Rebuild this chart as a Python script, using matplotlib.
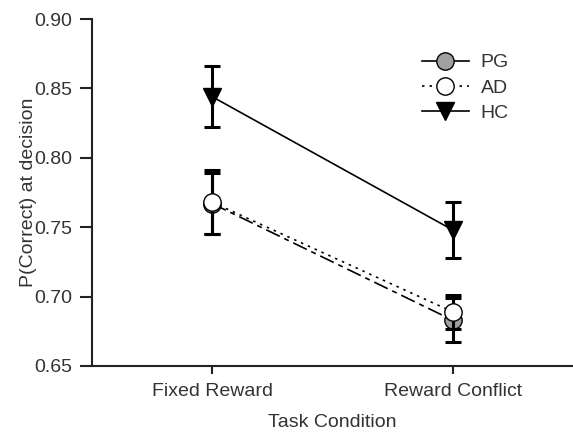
import matplotlib.pyplot as plt
from matplotlib.lines import Line2D

plt.rcParams["font.family"] = ["Liberation Sans", "DejaVu Sans"]

conditions = ["Fixed Reward", "Reward Conflict"]
pg_mean = [0.767, 0.683]
pg_err = [0.022, 0.016]
ad_mean = [0.768, 0.689]
ad_err = [0.023, 0.012]
hc_mean = [0.844, 0.748]
hc_err = [0.022, 0.020]

x = list(range(len(conditions)))

fig = plt.figure(figsize=(5.73, 4.32), dpi=100)
ax = fig.add_axes([92 / 573, 1 - 366 / 432, (573 - 92) / 573, (366 - 19) / 432])

eb = dict(color="black", capsize=6, elinewidth=2.2, capthick=2.2)

# PG
ax.errorbar(x, pg_mean, yerr=pg_err, fmt="none", zorder=2, **eb)
ax.plot(x, pg_mean, color="black", linestyle=(0, (9, 3, 3, 3)), lw=1.2,
        marker="o", ms=12.5, mfc="#a0a0a0", mec="black", mew=1.0, zorder=2)
# AD
ax.errorbar(x, ad_mean, yerr=ad_err, fmt="none", zorder=3, **eb)
ax.plot(x, ad_mean, color="black", linestyle=(0, (1.5, 3)), lw=1.2,
        marker="o", ms=12.5, mfc="white", mec="black", mew=1.0, zorder=3)
# HC
ax.errorbar(x, hc_mean, yerr=hc_err, fmt="none", zorder=4, **eb)
ax.plot(x, hc_mean, color="black", linestyle="-", lw=1.2,
        marker="v", ms=13, mfc="black", mec="black", zorder=4)

ax.set_xlim(-0.5, 1.5)
ax.set_ylim(0.65, 0.90)
ax.set_xticks(x)
ax.set_xticklabels(conditions)
ax.set_yticks([0.65, 0.70, 0.75, 0.80, 0.85, 0.90])
ax.set_yticklabels(["0.65", "0.70", "0.75", "0.80", "0.85", "0.90"])
ax.tick_params(labelsize=14, colors="#333333", width=1.5)
ax.tick_params(axis="y", length=9, pad=5)
ax.tick_params(axis="x", length=6, pad=6)
ax.tick_params(color="#222222")

for s in ["top", "right"]:
    ax.spines[s].set_visible(False)
for s in ["left", "bottom"]:
    ax.spines[s].set_linewidth(1.5)
    ax.spines[s].set_color("#222222")

ax.set_xlabel("Task Condition", fontsize=14, color="#333333", labelpad=10)
ax.set_ylabel("P(Correct) at decision", fontsize=14, color="#333333", labelpad=-2)

handles = [
    Line2D([], [], color="black", lw=1.2, marker="o", ms=12.5, mfc="#a0a0a0", mec="black"),
    Line2D([], [], color="black", lw=1.2, linestyle=(0, (1.5, 3)), marker="o", ms=12.5,
           mfc="white", mec="black"),
    Line2D([], [], color="black", lw=1.2, marker="v", ms=13, mfc="black", mec="black"),
]
leg = ax.legend(handles, ["PG", "AD", "HC"], loc="upper left",
                bbox_to_anchor=(0.65, 0.95), frameon=False, fontsize=14,
                handlelength=2.4, labelspacing=0.4, handletextpad=0.6)
for t in leg.get_texts():
    t.set_color("#333333")

plt.savefig("out.png", dpi=100)
